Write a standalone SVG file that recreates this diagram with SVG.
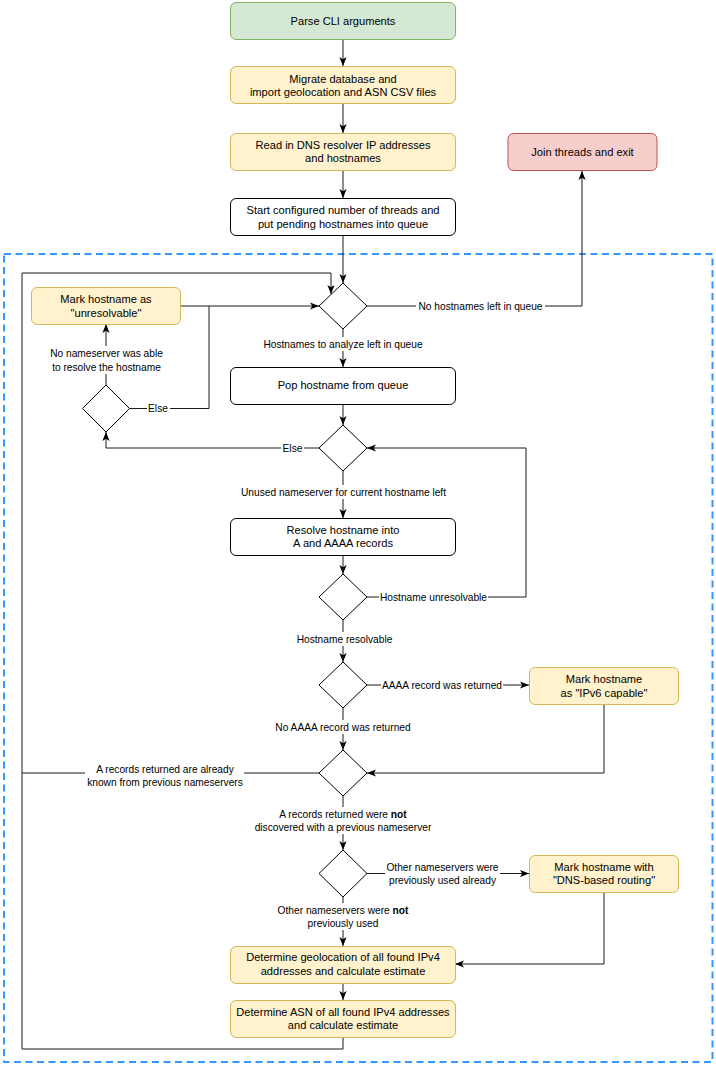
<svg xmlns="http://www.w3.org/2000/svg" width="716" height="1066" viewBox="0 0 716 1066">
<style>
.n{stroke-width:1}
.w{fill:#ffffff;stroke:#000000}
.g{fill:#d5e8d4;stroke:#82b366}
.y{fill:#fff2cc;stroke:#d6b656}
.r{fill:#f8cecc;stroke:#b85450}
.d{fill:#ffffff;stroke:#000000;stroke-width:1}
.t{font-family:"Liberation Sans",Arial,Helvetica,sans-serif;font-size:11.1px;fill:#000000;text-anchor:middle}
.e{font-family:"Liberation Sans",Arial,Helvetica,sans-serif;font-size:10.2px;fill:#000000;text-anchor:middle}
.c{fill:none;stroke:#1a1a1a;stroke-width:1}
.bg{fill:#ffffff;stroke:none}
</style>
<defs>
<marker id="a" viewBox="0 0 10 8" refX="10" refY="4" markerWidth="9" markerHeight="7.5" markerUnits="userSpaceOnUse" orient="auto">
<path d="M0,0 L10,4 L0,8 L2.5,4 Z" fill="#000000"/>
</marker>
</defs>
<rect x="0" y="0" width="716" height="1066" fill="#ffffff"/>
<rect id="loop-frame" x="4" y="254" width="708.5" height="808" fill="none" stroke="#3399ff" stroke-width="2" stroke-dasharray="7 4.5"/>

<g id="connectors">
<path class="c" d="M343,40 V66" marker-end="url(#a)"/>
<path class="c" d="M343,104 V133" marker-end="url(#a)"/>
<path class="c" d="M343,170 V198" marker-end="url(#a)"/>
<path class="c" d="M343,236 V283" marker-end="url(#a)"/>
<path class="c" d="M367,306 H582 V171" marker-end="url(#a)"/>
<path class="c" d="M343,329 V367" marker-end="url(#a)"/>
<path class="c" d="M343,404 V425" marker-end="url(#a)"/>
<path class="c" d="M319,448 H106 V432" marker-end="url(#a)"/>
<path class="c" d="M106,385 V324" marker-end="url(#a)"/>
<path class="c" d="M180,306 H319" marker-end="url(#a)"/>
<path class="c" d="M129,408.5 H209 V306"/>
<path class="c" d="M343,471 V518" marker-end="url(#a)"/>
<path class="c" d="M343,555 V574" marker-end="url(#a)"/>
<path class="c" d="M367,597 H526 V448 H367" marker-end="url(#a)"/>
<path class="c" d="M343,620 V662" marker-end="url(#a)"/>
<path class="c" d="M367,685 H529" marker-end="url(#a)"/>
<path class="c" d="M604,704 V773 H367" marker-end="url(#a)"/>
<path class="c" d="M343,708 V750" marker-end="url(#a)"/>
<path class="c" d="M319,773 H22"/>
<path class="c" d="M343,796 V850" marker-end="url(#a)"/>
<path class="c" d="M367,873.5 H529" marker-end="url(#a)"/>
<path class="c" d="M604,892 V964 H455" marker-end="url(#a)"/>
<path class="c" d="M343,897 V946" marker-end="url(#a)"/>
<path class="c" d="M343,983 V1000" marker-end="url(#a)"/>
<path class="c" d="M343,1037 V1049 H22 V273 H331 V294" marker-end="url(#a)"/>

<rect class="bg" x="416" y="299" width="129" height="14"/>
<text class="e" x="480.5" y="309.6">No hostnames left in queue</text>
<rect class="bg" x="262" y="337" width="162" height="14"/>
<text class="e" x="343" y="347.6">Hostnames to analyze left in queue</text>
<rect class="bg" x="281" y="441" width="23" height="14"/>
<text class="e" x="292.5" y="451.6">Else</text>
<rect class="bg" x="147" y="401.5" width="23" height="14"/>
<text class="e" x="158" y="412.1">Else</text>
<rect class="bg" x="48" y="346" width="116" height="28"/>
<text class="e" x="106.5" y="356.6">No nameserver was able</text>
<text class="e" x="106.5" y="370.6">to resolve the hostname</text>
<rect class="bg" x="239" y="485" width="209" height="14"/>
<text class="e" x="343.5" y="495.6">Unused nameserver for current hostname left</text>
<rect class="bg" x="379" y="590" width="109" height="14"/>
<text class="e" x="433.5" y="600.6">Hostname unresolvable</text>
<rect class="bg" x="296" y="632" width="97" height="14"/>
<text class="e" x="344.5" y="642.6">Hostname resolvable</text>
<rect class="bg" x="381" y="678" width="122" height="14"/>
<text class="e" x="442" y="688.6">AAAA record was returned</text>
<rect class="bg" x="274" y="720" width="138" height="14"/>
<text class="e" x="343" y="730.6">No AAAA record was returned</text>
<rect class="bg" x="85" y="762" width="159" height="27"/>
<text class="e" x="165" y="772.6">A records returned are already</text>
<text class="e" x="165" y="785.6">known from previous nameservers</text>
<rect class="bg" x="253" y="807" width="180" height="27"/>
<text class="e" x="343" y="817.6">A records returned were <tspan font-weight="bold">not</tspan></text>
<text class="e" x="343" y="830.6">discovered with a previous nameserver</text>
<rect class="bg" x="385" y="860" width="115" height="27"/>
<text class="e" x="442.5" y="870.6">Other nameservers were</text>
<text class="e" x="442.5" y="883.6">previously used already</text>
<rect class="bg" x="276" y="903" width="133" height="27"/>
<text class="e" x="343" y="913.6">Other nameservers were <tspan font-weight="bold">not</tspan></text>
<text class="e" x="343" y="926.6">previously used</text>
</g>

<g id="parse-cli">
<rect class="g" x="230.5" y="2.5" width="225" height="37" rx="5.6"/>
<text class="t" x="343" y="25">Parse CLI arguments</text>
</g>
<g id="migrate-db">
<rect class="y" x="230.5" y="66.5" width="225" height="37" rx="5.6"/>
<text class="t" x="343" y="83">Migrate database and</text>
<text class="t" x="343" y="96">import geolocation and ASN CSV files</text>
</g>
<g id="read-dns">
<rect class="y" x="230.5" y="133.5" width="225" height="37" rx="5.6"/>
<text class="t" x="343" y="149">Read in DNS resolver IP addresses</text>
<text class="t" x="343" y="162">and hostnames</text>
</g>
<g id="start-threads">
<rect class="w" x="230.5" y="198.5" width="225" height="37" rx="5.6"/>
<text class="t" x="343" y="214">Start configured number of threads and</text>
<text class="t" x="343" y="228">put pending hostnames into queue</text>
</g>
<g id="join-threads">
<rect class="r" x="508" y="133.5" width="149" height="37" rx="5.6"/>
<text class="t" x="582.5" y="156">Join threads and exit</text>
</g>
<g id="queue-check">
<polygon class="d" points="343,283 367,306 343,329 319,306"/>
</g>
<g id="mark-unresolvable">
<rect class="y" x="31.5" y="287.5" width="149" height="37" rx="5.6"/>
<text class="t" x="106" y="303">Mark hostname as</text>
<text class="t" x="106" y="317">"unresolvable"</text>
</g>
<g id="resolved-check">
<polygon class="d" points="106,385 129.5,408.5 106,432 82.5,408.5"/>
</g>
<g id="pop-hostname">
<rect class="w" x="230.5" y="367.5" width="225" height="37" rx="5.6"/>
<text class="t" x="343" y="389">Pop hostname from queue</text>
</g>
<g id="nameserver-check">
<polygon class="d" points="343,425 367,448 343,471 319,448"/>
</g>
<g id="resolve-hostname">
<rect class="w" x="230.5" y="518.5" width="225" height="37" rx="5.6"/>
<text class="t" x="343" y="534">Resolve hostname into</text>
<text class="t" x="343" y="547">A and AAAA records</text>
</g>
<g id="resolvable-check">
<polygon class="d" points="343,574 367,597 343,620 319,597"/>
</g>
<g id="aaaa-check">
<polygon class="d" points="343,662 367,685 343,708 319,685"/>
</g>
<g id="mark-ipv6">
<rect class="y" x="529.5" y="667.5" width="149" height="37" rx="5.6"/>
<text class="t" x="604" y="683">Mark hostname</text>
<text class="t" x="604" y="697">as "IPv6 capable"</text>
</g>
<g id="known-check">
<polygon class="d" points="343,750 367,773 343,796 319,773"/>
</g>
<g id="previous-check">
<polygon class="d" points="343,850 367,873.5 343,897 319,873.5"/>
</g>
<g id="mark-dns-routing">
<rect class="y" x="529.5" y="855.5" width="149" height="37" rx="5.6"/>
<text class="t" x="604" y="871">Mark hostname with</text>
<text class="t" x="604" y="884">"DNS-based routing"</text>
</g>
<g id="geolocation">
<rect class="y" x="230.5" y="946.5" width="225" height="37" rx="5.6"/>
<text class="t" x="343" y="961">Determine geolocation of all found IPv4</text>
<text class="t" x="343" y="975">addresses and calculate estimate</text>
</g>
<g id="asn">
<rect class="y" x="230.5" y="1000.5" width="225" height="37" rx="5.6"/>
<text class="t" x="343" y="1016">Determine ASN of all found IPv4 addresses</text>
<text class="t" x="343" y="1029">and calculate estimate</text>
</g>
</svg>
